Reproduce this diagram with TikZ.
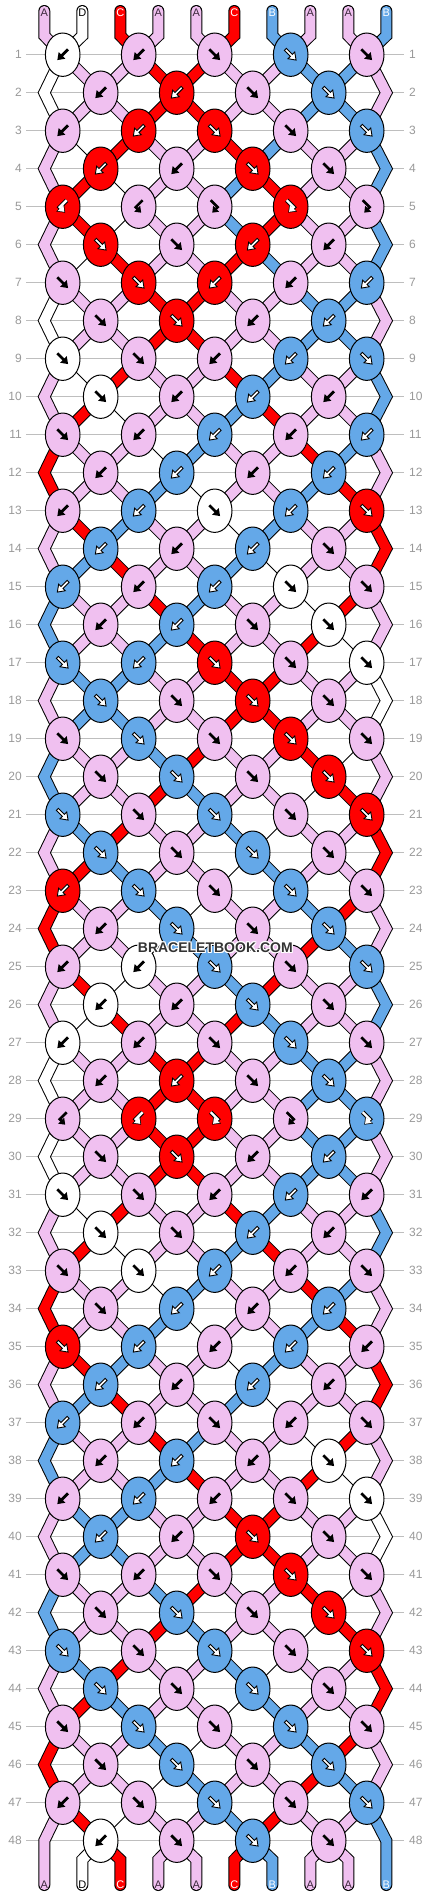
\documentclass[tikz,border=0pt]{standalone}
\usepackage{fontspec}
\setsansfont{Liberation Sans}
\usetikzlibrary{arrows.meta}
\definecolor{pk}{HTML}{F0C0F0}
\definecolor{bl}{HTML}{64A8E8}
\definecolor{rd}{HTML}{FF0000}
\definecolor{wh}{HTML}{FFFFFF}
\definecolor{rowgray}{HTML}{999999}
\definecolor{linegray}{HTML}{BEBEBE}
\definecolor{wmark}{HTML}{333333}
\definecolor{lblA}{HTML}{3C283C}
\definecolor{lblD}{HTML}{000000}
\definecolor{lblC}{HTML}{FFFFFF}
\definecolor{lblB}{HTML}{FFFFFF}

\tikzset{
  segout/.style={draw=black, line width=12pt, line cap=round, line join=miter},
  segfill/.style={line width=10pt, line cap=round, line join=miter},
  segthin/.style={draw=black, line width=0.9pt},
  knotshape/.style={draw=black, line width=1pt},
  rowline/.style={draw=linegray, line width=1pt},
  rowlbl/.style={text=rowgray, font=\sffamily\fontsize{12}{12}\selectfont, inner sep=0pt},
  stublbl/.style={font=\sffamily\fontsize{11}{11}\selectfont, inner sep=0pt},
  wm/.style={font=\sffamily\bfseries\fontsize{14}{14}\selectfont, inner sep=0pt},
}

\def\brLightA{pk}\def\brLightB{wh}
\newcommand\brSegO[2]{\draw[segout] #2;}
\newcommand\brSegF[2]{\draw[segfill, draw=#1] #2;}
\newcommand\brSegOi[2]{\def\brTmp{#1}\ifx\brTmp\brLightB\draw[segthin] #2;\else\draw[segout] #2;\fi}
\newcommand\brSegFi[2]{\def\brTmp{#1}\ifx\brTmp\brLightB\else\draw[segfill, draw=#1] #2;\fi}

\newcommand\brStraight[3]{%
  \begin{scope}[shift={(#1,#2)},#3]
    \ifnum\brDark=1
      \filldraw[fill=white, draw=black, line width=0.9pt, line join=miter]
        (-7.6,-1.4) -- (1.0,-1.4) -- (1.0,-4.7) -- (7.6,0) -- (1.0,4.7) -- (1.0,1.4) -- (-7.6,1.4) -- cycle;
    \else
      \fill[black]
        (-7.6,-1.4) -- (1.0,-1.4) -- (1.0,-4.7) -- (7.6,0) -- (1.0,4.7) -- (1.0,1.4) -- (-7.6,1.4) -- cycle;
    \fi
  \end{scope}}
\newcommand\brHook[3]{%
  \begin{scope}[shift={(#1,#2)}]
    \ifnum\brDark=1
      \draw[black, line width=4.4pt, line join=miter, -{Triangle[length=7.2pt,width=10.4pt]}] #3;
      \draw[white, line width=2.4pt, line join=miter, shorten >=1.2pt, -{Triangle[length=5.4pt,width=7.8pt]}] #3;
    \else
      \draw[black, line width=2.6pt, line join=miter, -{Triangle[length=5.6pt,width=8pt]}] #3;
    \fi
  \end{scope}}
\newcommand\brArrowf[2]{\brStraight{#1}{#2}{x={(0.7071pt,-0.7071pt)},y={(0.7071pt,0.7071pt)}}}
\newcommand\brArrowb[2]{\brStraight{#1}{#2}{x={(-0.7071pt,-0.7071pt)},y={(-0.7071pt,0.7071pt)}}}
\newcommand\brArrowF[2]{\brHook{#1}{#2}{(-4,-6.5) -- (3,0.5) -- (-2.5,6)}}
\newcommand\brArrowB[2]{\brHook{#1}{#2}{(4,-6.5) -- (-3,0.5) -- (2.5,6)}}
\newcommand\brKnot[4]{%
  \filldraw[knotshape, fill=#3] (#1,#2) ellipse [x radius=17.3, y radius=21.7];
  \def\brTmp{#3}%
  \def\brDark{1}%
  \ifx\brTmp\brLightA\def\brDark{0}\fi
  \ifx\brTmp\brLightB\def\brDark{0}\fi
  \csname brArrow#4\endcsname{#1}{#2}%
}

\ExplSyntaxOn
\seq_new:N \g_br_rows_seq
\seq_gset_from_clist:Nn \g_br_rows_seq
  {
    bbfff, bbff, bbfff, bbff, BBFFF, ffbb, ffbbb, ffbb,
    ffbbf, fbbb, fbbbb, bbbb, bbfbf, bbbf, bbbff, bbff,
    fbfff, ffff, fffff, ffff, fffff, ffff, bffff, bfff,
    bbfff, bbff, bbfff, bbff, BBFFF, ffbb, ffbbb, ffbb,
    ffbbf, fbbb, fbbbb, bbbb, bbfbf, bbbf, bbbff, bbff,
    fbfff, ffff, fffff, ffff, fffff, ffff, bffff, bfff
  }
\clist_const:Nn \c_br_init_clist { pk, wh, rd, pk, pk, rd, bl, pk, pk, bl }
\int_new:N \l_br_p_int
\int_new:N \l_br_q_int
\int_new:N \l_br_rp_int
\tl_new:N \l_br_codes_tl
\tl_new:N \l_br_c_tl
\tl_new:N \l_br_L_tl
\tl_new:N \l_br_R_tl
\tl_new:N \l_br_i_tl
\tl_new:N \l_br_r_tl
\tl_new:N \l_br_k_tl

\cs_new_protected:Npn \br_set_out:NN #1#2
  {
    \tl_gset_eq:cN { g_br_col_ \l_br_r_tl _ \int_use:N \l_br_p_int _tl } #1
    \tl_gset_eq:cN { g_br_col_ \l_br_r_tl _ \int_use:N \l_br_q_int _tl } #2
  }
\cs_new_protected:Npn \br_simulate:
  {
    \int_step_variable:nNn {10} \l_br_i_tl
      { \tl_gset:cx { g_br_col_0_ \l_br_i_tl _tl } { \clist_item:Nn \c_br_init_clist { \l_br_i_tl } } }
    \int_step_variable:nNn {48} \l_br_r_tl
      {
        \int_set:Nn \l_br_rp_int { \l_br_r_tl - 1 }
        \int_step_variable:nNn {10} \l_br_i_tl
          {
            \tl_gset_eq:cc { g_br_col_ \l_br_r_tl _ \l_br_i_tl _tl }
              { g_br_col_ \int_use:N \l_br_rp_int _ \l_br_i_tl _tl }
          }
        \tl_set:Nx \l_br_codes_tl { \seq_item:Nn \g_br_rows_seq { \l_br_r_tl } }
        \int_step_variable:nNn { \tl_count:N \l_br_codes_tl } \l_br_k_tl
          {
            \int_if_odd:nTF { \l_br_r_tl }
              { \int_set:Nn \l_br_p_int { 2 * \l_br_k_tl - 1 } }
              { \int_set:Nn \l_br_p_int { 2 * \l_br_k_tl } }
            \int_set:Nn \l_br_q_int { \l_br_p_int + 1 }
            \tl_set:Nx \l_br_c_tl { \tl_item:Nn \l_br_codes_tl { \l_br_k_tl } }
            \tl_set_eq:Nc \l_br_L_tl { g_br_col_ \int_use:N \l_br_rp_int _ \int_use:N \l_br_p_int _tl }
            \tl_set_eq:Nc \l_br_R_tl { g_br_col_ \int_use:N \l_br_rp_int _ \int_use:N \l_br_q_int _tl }
            \tl_gset:cx { g_br_kt_ \l_br_r_tl _ \l_br_k_tl _tl } { \l_br_c_tl }
            \exp_args:NV \str_case:nnF \l_br_c_tl
              {
                { f }
                  {
                    \tl_gset_eq:cN { g_br_kc_ \l_br_r_tl _ \l_br_k_tl _tl } \l_br_L_tl
                    \br_set_out:NN \l_br_R_tl \l_br_L_tl
                  }
                { b }
                  {
                    \tl_gset_eq:cN { g_br_kc_ \l_br_r_tl _ \l_br_k_tl _tl } \l_br_R_tl
                    \br_set_out:NN \l_br_R_tl \l_br_L_tl
                  }
                { F }
                  {
                    \tl_gset_eq:cN { g_br_kc_ \l_br_r_tl _ \l_br_k_tl _tl } \l_br_L_tl
                    \br_set_out:NN \l_br_L_tl \l_br_R_tl
                  }
                { B }
                  {
                    \tl_gset_eq:cN { g_br_kc_ \l_br_r_tl _ \l_br_k_tl _tl } \l_br_R_tl
                    \br_set_out:NN \l_br_L_tl \l_br_R_tl
                  }
              }
              { }
          }
      }
  }

\cs_new:Npn \br_y:n #1 { \fp_eval:n { 54.7 + 38 * ( (#1) - 1 ) } }
\cs_new:Npn \br_x:nn #1#2
  {
    \int_if_odd:nTF {#1}
      { \fp_eval:n { 62.7 + 76 * \int_div_truncate:nn { (#2) - 1 } { 2 } } }
      {
        \int_case:nnF {#2}
          { {1} {44.3} {10} {386.3} }
          { \fp_eval:n { 24.7 + 76 * \int_div_truncate:nn {#2} {2} } }
      }
  }
\cs_new:Npn \br_pt:nn #1#2 { ( \br_x:nn {#1} {#2} , \br_y:n {#1} ) }
\cs_new:Npn \br_sx:n #1 { \fp_eval:n { 44.3 + 38 * ( (#1) - 1 ) } }
\cs_new:Npn \br_col:nn #1#2 { \use:c { g_br_col_ \int_eval:n {#1} _ \int_eval:n {#2} _tl } }

\cs_new_protected:Npn \br_edge:Nnn #1#2#3
  {
    \int_compare:nNnTF {#2} < {47}
      {
        \use:e { \exp_not:N #1 { \br_col:nn {#2} {#3} }
          { \br_pt:nn {#2} {#3} -- \br_pt:nn {#2+1} {#3} -- \br_pt:nn {#2+2} {#3} } }
      }
      {
        \use:e { \exp_not:N #1 { \br_col:nn {#2} {#3} }
          { \br_pt:nn {#2} {#3} -- \br_pt:nn {#2+1} {#3} -- ( \br_sx:n {#3} , 1885 ) } }
      }
  }

\cs_new_protected:Npn \br_segs:NN #1#2
  {
    \int_step_variable:nNn {10} \l_br_i_tl
      {
        \use:e { \exp_not:N #1 { \br_col:nn {0} {\l_br_i_tl} }
          { ( \br_sx:n {\l_br_i_tl} , 11 ) -- ( \br_sx:n {\l_br_i_tl} , 35.7 ) -- \br_pt:nn {1} {\l_br_i_tl} } }
      }
    \int_step_variable:nNn {47} \l_br_r_tl
      {
        \int_step_variable:nnnNn {2} {1} {9} \l_br_i_tl
          {
            \use:e { \exp_not:N #2 { \br_col:nn {\l_br_r_tl} {\l_br_i_tl} }
              { \br_pt:nn {\l_br_r_tl} {\l_br_i_tl} -- \br_pt:nn {\l_br_r_tl + 1} {\l_br_i_tl} } }
          }
        \int_if_odd:nT {\l_br_r_tl}
          {
            \br_edge:Nnn #1 {\l_br_r_tl} {1}
            \br_edge:Nnn #1 {\l_br_r_tl} {10}
          }
      }
    \int_step_variable:nnnNn {2} {1} {9} \l_br_i_tl
      {
        \use:e { \exp_not:N #1 { \br_col:nn {48} {\l_br_i_tl} }
          { \br_pt:nn {48} {\l_br_i_tl} -- ( \br_sx:n {\l_br_i_tl} , 1859.7 ) -- ( \br_sx:n {\l_br_i_tl} , 1885 ) } }
      }
  }

\cs_new_protected:Npn \br_knots:
  {
    \int_step_variable:nNn {48} \l_br_r_tl
      {
        \int_step_variable:nNn { \int_if_odd:nTF {\l_br_r_tl} {5} {4} } \l_br_k_tl
          {
            \use:e
              {
                \exp_not:N \brKnot
                  { \fp_eval:n { \int_if_odd:nTF {\l_br_r_tl} {62.7} {100.7} + 76 * ( \l_br_k_tl - 1 ) } }
                  { \br_y:n {\l_br_r_tl} }
                  { \use:c { g_br_kc_ \l_br_r_tl _ \l_br_k_tl _tl } }
                  { \use:c { g_br_kt_ \l_br_r_tl _ \l_br_k_tl _tl } }
              }
          }
      }
  }
\cs_new_eq:NN \brSegs \br_segs:NN
\cs_new_eq:NN \brKnots \br_knots:
\br_simulate:
\ExplSyntaxOff

\begin{document}
\begin{tikzpicture}[x=1pt,y=-1pt]
\useasboundingbox (0,0) rectangle (430,1896);
\fill[white] (0,0) rectangle (430,1896);
\foreach \r in {1,...,48}{
  \pgfmathsetmacro\yy{54.7+38*(\r-1)}
  \draw[rowline] (26,\yy) -- (404,\yy);
  \node[rowlbl, anchor=east] (ll\r) at (22,\yy) {\r};
  \node[rowlbl, anchor=west] (rl\r) at (409,\yy) {\r};
}
\brSegs\brSegO\brSegOi
\brSegs\brSegF\brSegFi
\foreach \l/\c [count=\i from 0] in {A/lblA,D/lblD,C/lblC,A/lblA,A/lblA,C/lblC,B/lblB,A/lblA,A/lblA,B/lblB}{
  \node[stublbl, text=\c] (top\i) at (44.3+38*\i, 12.7) {\l};
  \node[stublbl, text=\c] (bot\i) at (44.3+38*\i, 1884.3) {\l};
}
\brKnots
\foreach \dx/\dy in {-1/0,1/0,0/-1,0/1,-1/-1,1/1,-1/1,1/-1}{
  \node[wm, text=white] at (215.3+\dx, 947.5+\dy) {BRACELETBOOK.COM};
}
\node[wm, text=wmark] (wmark) at (215.3, 947.5) {BRACELETBOOK.COM};
\end{tikzpicture}
\end{document}
